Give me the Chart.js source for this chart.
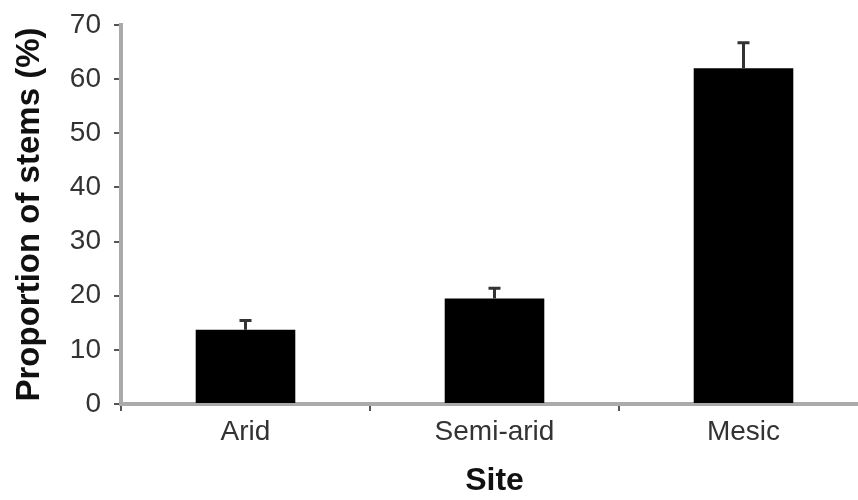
<!DOCTYPE html>
<html>
<head>
<meta charset="utf-8">
<script src="https://cdn.jsdelivr.net/npm/chart.js@4.4.1/dist/chart.umd.min.js"></script>
<style>
  html, body { margin: 0; padding: 0; background: #fff; overflow: hidden; width: 858px; height: 500px; }
  canvas { display: block; }
</style>
</head>
<body>
<canvas id="c" width="868" height="500"></canvas>
<script>
const categories = ["Arid", "Semi-arid", "Mesic"];
const proportions = [13.7, 19.5, 62.0];
const errorTops = [15.4, 21.4, 66.7];
const yTicks = [0, 10, 20, 30, 40, 50, 60, 70];

const errorBarPlugin = {
  id: 'errorBars',
  afterDatasetsDraw(chart) {
    const ctx = chart.ctx;
    const meta = chart.getDatasetMeta(0);
    const y = chart.scales.y;
    ctx.save();
    ctx.strokeStyle = '#333';
    ctx.lineWidth = 3;
    meta.data.forEach((bar, i) => {
      const x = bar.x;
      const yTop = y.getPixelForValue(errorTops[i]);
      const yBase = y.getPixelForValue(proportions[i]);
      ctx.beginPath();
      ctx.moveTo(x, yBase);
      ctx.lineTo(x, yTop);
      ctx.moveTo(x - 6, yTop);
      ctx.lineTo(x + 6, yTop);
      ctx.stroke();
    });
    ctx.restore();
  }
};

new Chart(document.getElementById('c'), {
  type: 'bar',
  data: {
    labels: categories,
    datasets: [{
      data: proportions,
      backgroundColor: '#000',
      borderColor: '#000',
      borderWidth: 0,
      barPercentage: 0.4,
      categoryPercentage: 1.0
    }]
  },
  options: {
    responsive: false,
    animation: false,
    events: [],
    layout: { padding: { top: 25, left: 0, right: 0, bottom: 0 } },
    plugins: { legend: { display: false }, tooltip: { enabled: false } },
    scales: {
      x: {
        grid: { display: true, drawOnChartArea: false, drawTicks: true, tickLength: 7, tickColor: '#555', lineWidth: 2, offset: true },
        border: { display: true, color: '#aaa', width: 4 },
        ticks: { color: '#333', padding: 4, font: { family: 'Liberation Sans, Arial, sans-serif', size: 28 } },
        title: { display: true, text: 'Site', color: '#111', padding: { top: 0, bottom: 0 }, font: { family: 'Liberation Sans, Arial, sans-serif', size: 32, weight: 'bold' } },
        afterFit(scale) { scale.height = 96; }
      },
      y: {
        min: 0, max: 70,
        afterBuildTicks(scale) { scale.ticks = yTicks.map(v => ({ value: v })); },
        grid: { display: true, drawOnChartArea: false, drawTicks: true, tickLength: 7, tickColor: '#555', lineWidth: 2 },
        border: { display: true, color: '#aaa', width: 4 },
        ticks: { color: '#333', padding: 13, font: { family: 'Liberation Sans, Arial, sans-serif', size: 28 } },
        title: { display: true, text: 'Proportion of stems (%)', color: '#111', padding: { top: 10, bottom: 0 }, font: { family: 'Liberation Sans, Arial, sans-serif', size: 33, weight: 'bold' } },
        afterFit(scale) { scale.width = 121; scale.paddingTop = 0; scale.paddingBottom = 0; }
      }
    }
  },
  plugins: [errorBarPlugin]
});
</script>
</body>
</html>
